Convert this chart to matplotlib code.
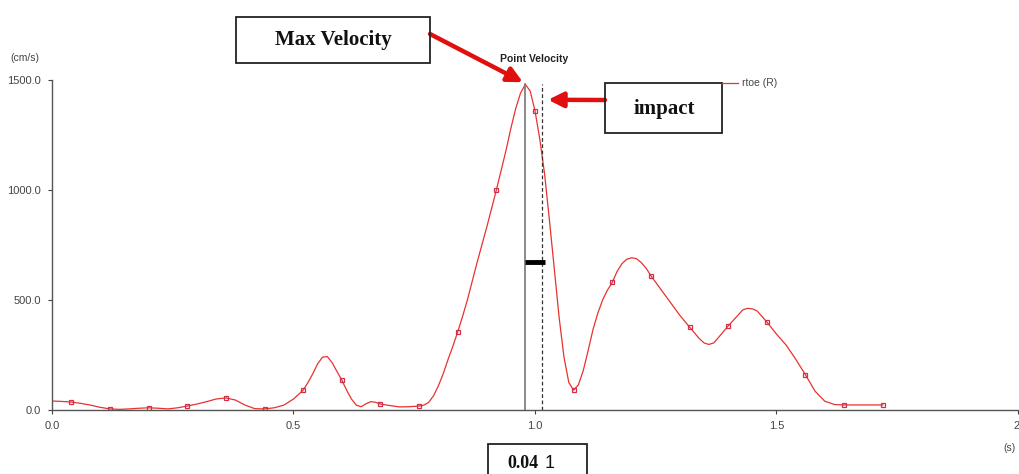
import matplotlib
matplotlib.use("Agg")
import matplotlib.pyplot as plt
from matplotlib.patches import Rectangle

# curve of rtoe (R) velocity
t = [0.00, 0.02, 0.04, 0.06, 0.08, 0.10, 0.12, 0.14, 0.16, 0.18, 0.20, 0.22, 0.24,
     0.26, 0.28, 0.30, 0.32, 0.34, 0.36, 0.38, 0.40, 0.42, 0.44, 0.46, 0.48, 0.50,
     0.52, 0.53, 0.54, 0.55, 0.56, 0.57, 0.58, 0.59, 0.60, 0.61, 0.62, 0.63, 0.64,
     0.65, 0.66, 0.67, 0.68, 0.70, 0.72, 0.74, 0.76, 0.77, 0.78, 0.79, 0.80, 0.81,
     0.82, 0.83, 0.84, 0.85, 0.86, 0.87, 0.88, 0.89, 0.90, 0.91, 0.92, 0.93, 0.94,
     0.95, 0.96, 0.97, 0.98, 0.99, 1.00, 1.01, 1.02, 1.03, 1.04, 1.05, 1.06, 1.07,
     1.08, 1.09, 1.10, 1.11, 1.12, 1.13, 1.14, 1.15, 1.16, 1.17, 1.18, 1.19, 1.20,
     1.21, 1.22, 1.23, 1.24, 1.26, 1.28, 1.30, 1.32, 1.34, 1.35, 1.36, 1.37, 1.38,
     1.40, 1.42, 1.43, 1.44, 1.45, 1.46, 1.48, 1.50, 1.52, 1.54, 1.56, 1.58, 1.60,
     1.62, 1.64, 1.72]
v = [41, 39, 36, 30, 22, 12, 5, 3, 5, 8, 10, 8, 5,
     10, 18, 27, 38, 50, 55, 45, 22, 6, 5, 10, 22, 50,
     90, 125, 165, 210, 240, 243, 215, 175, 136, 90, 50, 22, 15,
     28, 38, 35, 27, 20, 14, 15, 18, 22, 35, 65, 110, 165,
     230, 290, 355, 425, 500, 585, 670, 750, 830, 915, 1000, 1090, 1180,
     1280, 1370, 1440, 1480, 1450, 1360, 1230, 1070, 860, 640, 420, 240, 125,
     90, 115, 180, 270, 365, 440, 500, 545, 580, 630, 665, 685, 692,
     688, 670, 645, 610, 550, 490, 430, 377, 325, 305, 298, 305, 330,
     382, 430, 455, 462, 460, 450, 400, 345, 295, 230, 160, 85, 40,
     25, 23, 23]

# sampled points (square markers)
mark_t = [0.04, 0.12, 0.20, 0.28, 0.36, 0.44, 0.52, 0.60, 0.68, 0.76, 0.84,
          0.92, 1.00, 1.08, 1.16, 1.24, 1.32, 1.40, 1.48, 1.56, 1.64, 1.72]
mark_v = [36, 5, 10, 18, 55, 5, 90, 136, 27, 18, 355,
          1000, 1360, 90, 580, 610, 377, 382, 400, 160, 23, 23]

t_max = 0.98
v_max = 1480
t_impact = 1.015
bar_level = 673

xticks = [0.0, 0.5, 1.0, 1.5, 2.0]
xtick_labels = ["0.0", "0.5", "1.0", "1.5", "2."]
yticks = [0, 500, 1000, 1500]
ytick_labels = ["0.0", "500.0", "1000.0", "1500.0"]

W, H = 1020, 474
fig = plt.figure(figsize=(W / 100, H / 100), dpi=100)
ax = fig.add_axes([52 / W, 1 - 410 / H, (1018 - 52) / W, 330 / H])


def fx(px):
    return px / W


def fy(py):
    return 1 - py / H


red = "#e8322e"
ax.plot(t, v, color=red, lw=0.9)
ax.plot(mark_t, mark_v, ls="none", marker="s", ms=3.5, mfc="none", mec="#d0304a", mew=0.9)

ax.plot([t_max, t_max], [0, v_max], color="#777777", lw=1.2)
ax.plot([t_impact, t_impact], [0, v_max], color="#333333", lw=0.9, ls=(0, (3, 2)))
ax.plot([t_max, t_impact + 0.005], [bar_level, bar_level], color="black", lw=3.5,
        solid_capstyle="butt")

ax.set_xlim(0, 2)
ax.set_ylim(0, 1500)
ax.set_xticks(xticks)
ax.set_xticklabels(xtick_labels)
ax.set_yticks(yticks)
ax.set_yticklabels(ytick_labels)
for s in ["top", "right"]:
    ax.spines[s].set_visible(False)
for s in ["left", "bottom"]:
    ax.spines[s].set_color("#555555")
    ax.spines[s].set_linewidth(1.0)
ax.tick_params(labelsize=8, colors="#444444", length=3, width=0.8, pad=5,
               labelfontfamily="Liberation Sans")

tickfont = dict(family="Liberation Sans", size=7.5, color="#444444")
fig.text(fx(10), fy(58), "(cm/s)", ha="left", va="center", **tickfont)
fig.text(fx(1010), fy(448), "(s)", ha="center", va="center", **tickfont)
fig.text(fx(534), fy(59), "Point Velocity", ha="center", va="center",
         family="Liberation Sans", size=7.5, weight="bold", color="#222222")

# legend entry
fig.lines.append(plt.Line2D([fx(722), fx(738)], [fy(83), fy(83)], color=red, lw=0.9,
                            transform=fig.transFigure))
fig.text(fx(742), fy(83), "rtoe (R)", ha="left", va="center", **tickfont)


def box(x0, y0, x1, y1):
    fig.patches.append(Rectangle((fx(x0), fy(y1)), fx(x1) - fx(x0), fy(y0) - fy(y1),
                                 transform=fig.transFigure, fill=False,
                                 ec="#222222", lw=1.3, clip_on=False))


serif = dict(family="Liberation Serif", weight="bold", color="#111111")

box(236, 17, 430, 63)
fig.text(fx(333), fy(40), "Max Velocity", ha="center", va="center", size=15, **serif)
ax.annotate("", xy=(t_max - 0.005, v_max + 10), xycoords="data",
            xytext=(fx(430), fy(34)), textcoords="figure fraction",
            arrowprops=dict(arrowstyle="-|>,head_width=0.45,head_length=0.9",
                            color="#e01010", lw=3.2, shrinkA=0, shrinkB=0),
            annotation_clip=False)

box(605, 83, 722, 133)
fig.text(fx(664), fy(109), "impact", ha="center", va="center", size=15, **serif)
ax.annotate("", xy=(t_impact + 0.012, 1410), xycoords="data",
            xytext=(fx(605), fy(100)), textcoords="figure fraction",
            arrowprops=dict(arrowstyle="-|>,head_width=0.45,head_length=0.9",
                            color="#e01010", lw=3.2, shrinkA=0, shrinkB=0),
            annotation_clip=False)

box(488, 444, 587, 480)
fig.text(fx(538), fy(463), "0.04", ha="right", va="center", size=13, **serif)
fig.text(fx(545), fy(463), "1", ha="left", va="center", family="Liberation Sans",
         size=13, color="#111111")

fig.savefig("out.png", dpi=100)
